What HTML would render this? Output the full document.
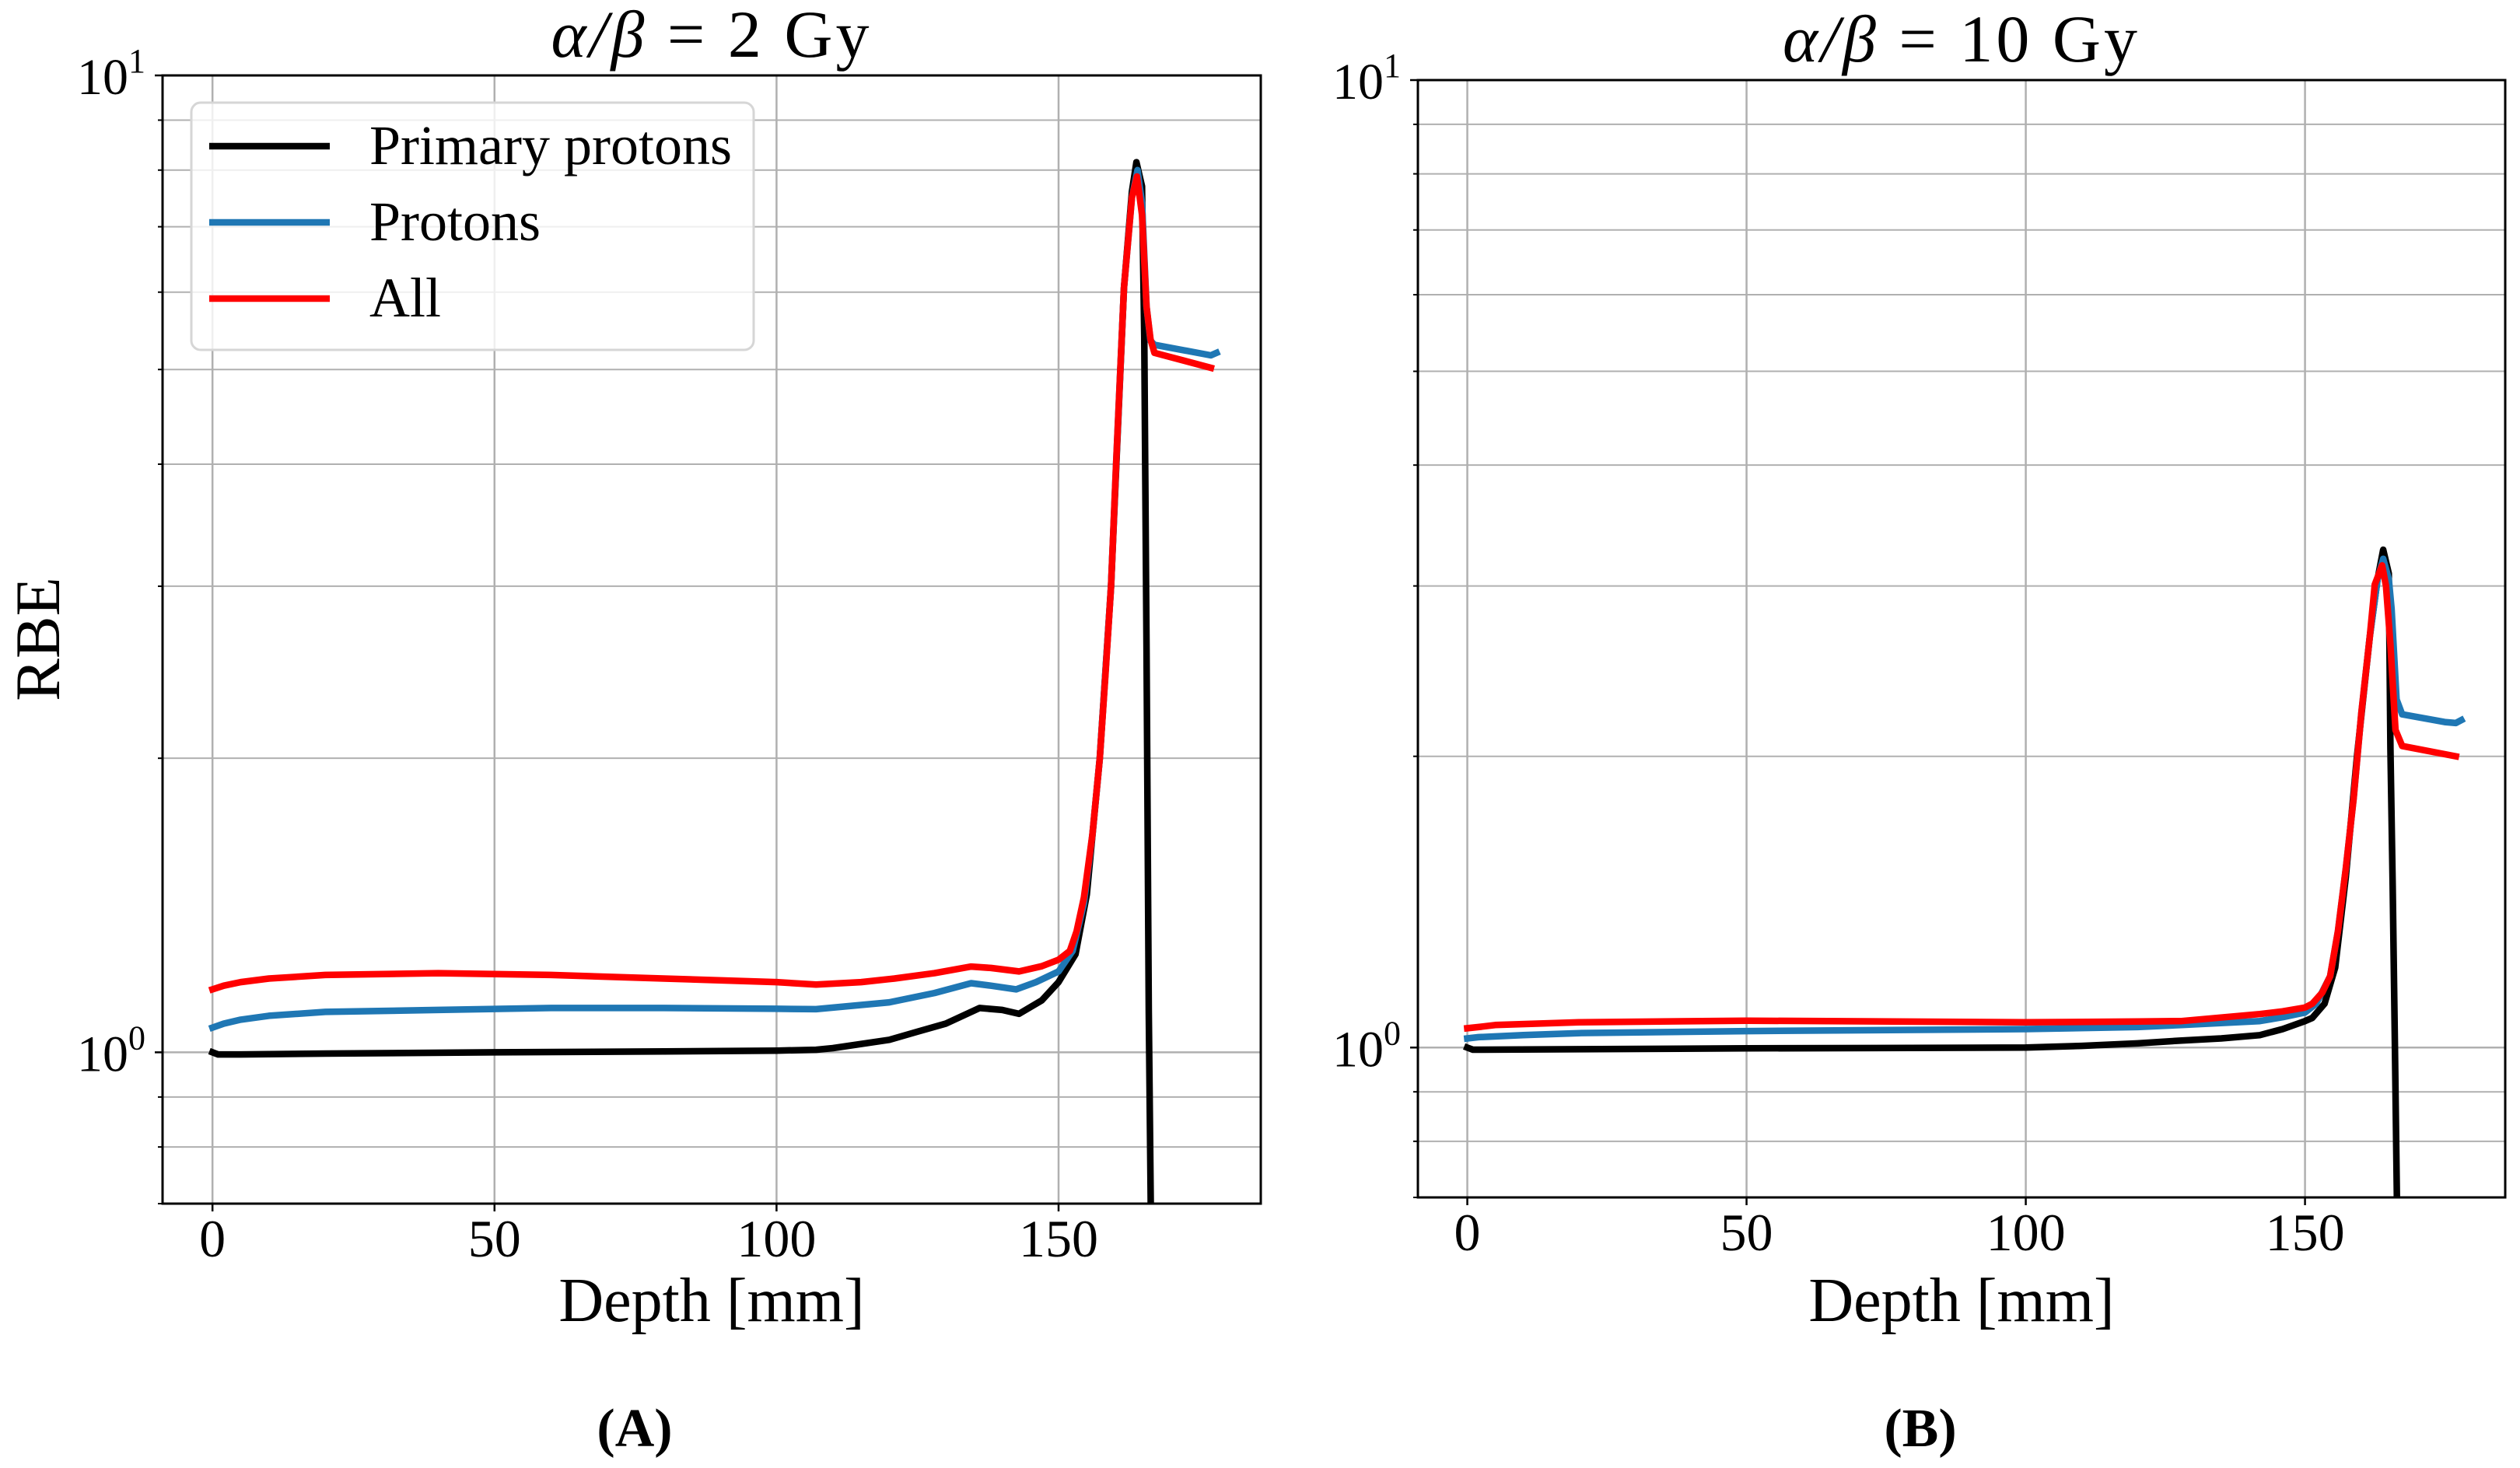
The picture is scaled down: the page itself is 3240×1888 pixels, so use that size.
<!DOCTYPE html>
<html><head><meta charset="utf-8">
<style>
html,body{margin:0;padding:0;background:#fff;}
svg{display:block;font-family:"Liberation Serif","DejaVu Serif",serif;}
</style></head>
<body>
<svg id="fig" width="3240" height="1888" viewBox="0 0 3240 1888" xmlns="http://www.w3.org/2000/svg">
<rect width="3240" height="1888" fill="#fff"/>
</svg>
<script>
// ---------- Panel A (alpha/beta = 2 Gy) ----------
const xPrimA = [0,1,5,20,50,80,100,107,110,120,125,130,136,140,143,147,150,153,155,157.3,159.3,161.6,163,163.8,164.8,165.2,165.6,166,166.6];
const yPrimA = [1.0,0.995,0.995,0.997,1.0,1.002,1.004,1.006,1.01,1.03,1.05,1.07,1.11,1.105,1.095,1.13,1.18,1.26,1.45,2.0,3.0,6.06,7.6,8.15,7.7,5.4,2.6,1.1,0.5];
const xProtA = [0,2,5,10,20,40,60,80,100,107,120,128,134.5,138,142.5,146,150,152.5,154.5,156,157.3,159.3,160.2,161.6,163,164,164.8,165.6,166.3,167,177,178];
const yProtA = [1.06,1.07,1.08,1.09,1.10,1.105,1.11,1.11,1.108,1.107,1.125,1.15,1.177,1.17,1.16,1.18,1.21,1.27,1.42,1.67,2.0,3.0,4.0,6.06,7.5,8.0,7.4,5.8,5.35,5.3,5.17,5.2];
const xAllA = [0,2,5,10,20,40,60,80,100,107,115,120.9,128,134.5,138,143,147,150,152,153.2,154.5,156,157.3,158.3,159.3,160.2,161.6,163,163.9,164.8,165.6,166.3,167,177];
const yAllA = [1.16,1.17,1.18,1.19,1.20,1.205,1.20,1.19,1.18,1.173,1.18,1.19,1.205,1.224,1.22,1.21,1.225,1.244,1.27,1.33,1.44,1.67,2.0,2.43,3.0,4.0,6.06,7.5,7.88,7.2,5.8,5.37,5.2,5.02];

// ---------- Panel B (alpha/beta = 10 Gy) ----------
const xPrimB = [0,1,20,50,100,110,120,127.9,135,141.9,146,150,151.3,153.5,155.4,157.3,159.3,161.6,163,164,165,165.3,165.7,166.1,166.6];
const yPrimB = [1.0,0.995,0.996,0.998,1.0,1.004,1.01,1.017,1.022,1.03,1.045,1.065,1.073,1.11,1.21,1.50,2.0,2.66,3.05,3.27,3.09,2.04,1.47,1.0,0.6];
const xProtB = [0,2,10,20,50,100,120,127.9,141.9,146,150,152,154.5,155.9,157.3,158.7,160.1,161.6,163,164,165,165.5,166.4,167.4,175,177,178];
const yProtB = [1.022,1.025,1.03,1.035,1.04,1.045,1.05,1.055,1.065,1.075,1.087,1.11,1.185,1.32,1.53,1.81,2.22,2.66,3.05,3.2,3.05,2.84,2.29,2.21,2.17,2.165,2.18];
const xAllB = [0,2,5,20,50,100,120,127.9,141.9,146,150,151.3,153.1,154.5,155.9,157.3,158.7,160.1,161.6,162.5,163.8,164.5,165.3,166.2,167.4,177];
const yAllB = [1.047,1.05,1.055,1.062,1.066,1.062,1.064,1.065,1.083,1.09,1.10,1.11,1.14,1.185,1.32,1.53,1.81,2.22,2.66,3.01,3.15,3.0,2.61,2.13,2.05,2.0];

const xTicks = [0,50,100,150];
const xTickLabels = ['0','50','100','150'];
const yMajor = [1,10];
const yMinor = [0.7,0.8,0.9,2,3,4,5,6,7,8,9];
const xDomain = [-8.85,185.85];
const yDomain = [0.7,10];

const NS = 'http://www.w3.org/2000/svg';
const svg = document.getElementById('fig');
function mk(tag, attrs, parent, text){
  const e = document.createElementNS(NS, tag);
  for (const k in attrs) e.setAttribute(k, attrs[k]);
  if (text !== undefined) e.textContent = text;
  (parent||svg).appendChild(e);
  return e;
}

function drawPanel(cfg){
  const g = mk('g', {});
  
  
  const L=cfg.left,R=cfg.right,T=cfg.top,B=cfg.bottom;
  const sx = v => L + (v - xDomain[0])/(xDomain[1]-xDomain[0])*(R-L);
  const ly0=Math.log10(yDomain[0]), ly1=Math.log10(yDomain[1]);
  const sy = v => B - (Math.log10(v)-ly0)/(ly1-ly0)*(B-T);

  const clipId = cfg.name + '-clip';
  const defs = mk('defs', {}, g);
  const cp = mk('clipPath', {id: clipId}, defs);
  mk('rect', {x:L, y:T, width:R-L, height:B-T}, cp);

  const grid = mk('g', {}, g);
  
  
  yMinor.forEach(v => {
    const y = sy(v);
    mk('line', {x1:L, x2:R, y1:y, y2:y, stroke:'#b0b0b0', 'stroke-width':2}, grid);
    mk('line', {x1:L-6, x2:L, y1:y, y2:y, stroke:'#000', 'stroke-width':2}, grid);
  });
  yMajor.forEach(v => {
    const y = sy(v);
    mk('line', {x1:L, x2:R, y1:y, y2:y, stroke:'#b0b0b0', 'stroke-width':2.5}, grid);
    mk('line', {x1:L-10, x2:L, y1:y, y2:y, stroke:'#000', 'stroke-width':2.5}, grid);
  });
  xTicks.forEach((v,i) => {
    const x = sx(v);
    mk('line', {x1:x, x2:x, y1:T, y2:B, stroke:'#b0b0b0', 'stroke-width':2.5}, grid);
    mk('line', {x1:x, x2:x, y1:B, y2:B+10, stroke:'#000', 'stroke-width':2.5}, grid);
    const t = mk('text', {x:x, y:B+68, 'font-size':68, 'text-anchor':'middle'}, g, xTickLabels[i]);
    
    
  });
  yMajor.forEach(v => {
    const y = sy(v);
    const t = mk('text', {x:L-22, y:y+24, 'font-size':66, 'text-anchor':'end'}, g);
    mk('tspan', {}, t, '10');
    mk('tspan', {dy:-28, 'font-size':44}, t, String(Math.round(Math.log10(v))));
    
    
  });

  const series = [
    {x:cfg.xPrim, y:cfg.yPrim, c:'#000000', n:'primary-protons-line'},
    {x:cfg.xProt, y:cfg.yProt, c:'#1f77b4', n:'protons-line'},
    {x:cfg.xAll, y:cfg.yAll, c:'#ff0000', n:'all-line'}
  ];
  series.forEach(s => {
    const d = s.x.map((xv,i) => (i?'L':'M') + sx(xv).toFixed(1) + ',' + sy(s.y[i]).toFixed(1)).join(' ');
    const p = mk('path', {d:d, fill:'none', stroke:s.c, 'stroke-width':8.5, 'stroke-linejoin':'round', 'stroke-linecap':'square', 'clip-path':'url(#'+clipId+')'}, g);
    
    
  });

  const fr = mk('rect', {x:L, y:T, width:R-L, height:B-T, fill:'none', stroke:'#000', 'stroke-width':3}, g);
  
  

  const tt = mk('text', {x:(L+R)/2, y:T-24, 'font-size':86, 'text-anchor':'middle', 'letter-spacing':4}, g);
  mk('tspan', {'font-style':'italic'}, tt, 'α/β');
  mk('tspan', {}, tt, ' = ' + cfg.title);
  
  

  const xl = mk('text', {x:(L+R)/2, y:1699, 'font-size':80, 'text-anchor':'middle'}, g, 'Depth [mm]');
  
  

  const pl = mk('text', {x:cfg.labelX, y:1860, 'font-size':70, 'font-weight':'bold', 'text-anchor':'middle'}, g, cfg.label);
  
  
  return {sx, sy};
}

drawPanel({name:'panel-a', left:209, right:1621, top:97, bottom:1548, title:'2 Gy', label:'(A)', labelX:816,
  xPrim:xPrimA, yPrim:yPrimA, xProt:xProtA, yProt:yProtA, xAll:xAllA, yAll:yAllA});
drawPanel({name:'panel-b', left:1823, right:3221, top:103, bottom:1540, title:'10 Gy', label:'(B)', labelX:2469,
  xPrim:xPrimB, yPrim:yPrimB, xProt:xProtB, yProt:yProtB, xAll:xAllB, yAll:yAllB});

const yt = mk('text', {x:0, y:0, 'font-size':82, 'text-anchor':'middle', transform:'translate(76,822) rotate(-90)'}, svg, 'RBE');



const lg = mk('g', {});


mk('rect', {x:246, y:132, width:723, height:318, rx:12, fill:'#fff', 'fill-opacity':0.8, stroke:'#d6d6d6', 'stroke-width':3}, lg);
const legendNames = ['Primary protons','Protons','All'];
const legendColors = ['#000000','#1f77b4','#ff0000'];
legendNames.forEach((n,i) => {
  const y = 188 + i*98;
  const e = mk('g', {}, lg);
  
  
  mk('line', {x1:269, x2:424, y1:y, y2:y, stroke:legendColors[i], 'stroke-width':8.5}, e);
  mk('text', {x:475, y:y+23, 'font-size':72}, e, n);
});
</script>
</body></html>
